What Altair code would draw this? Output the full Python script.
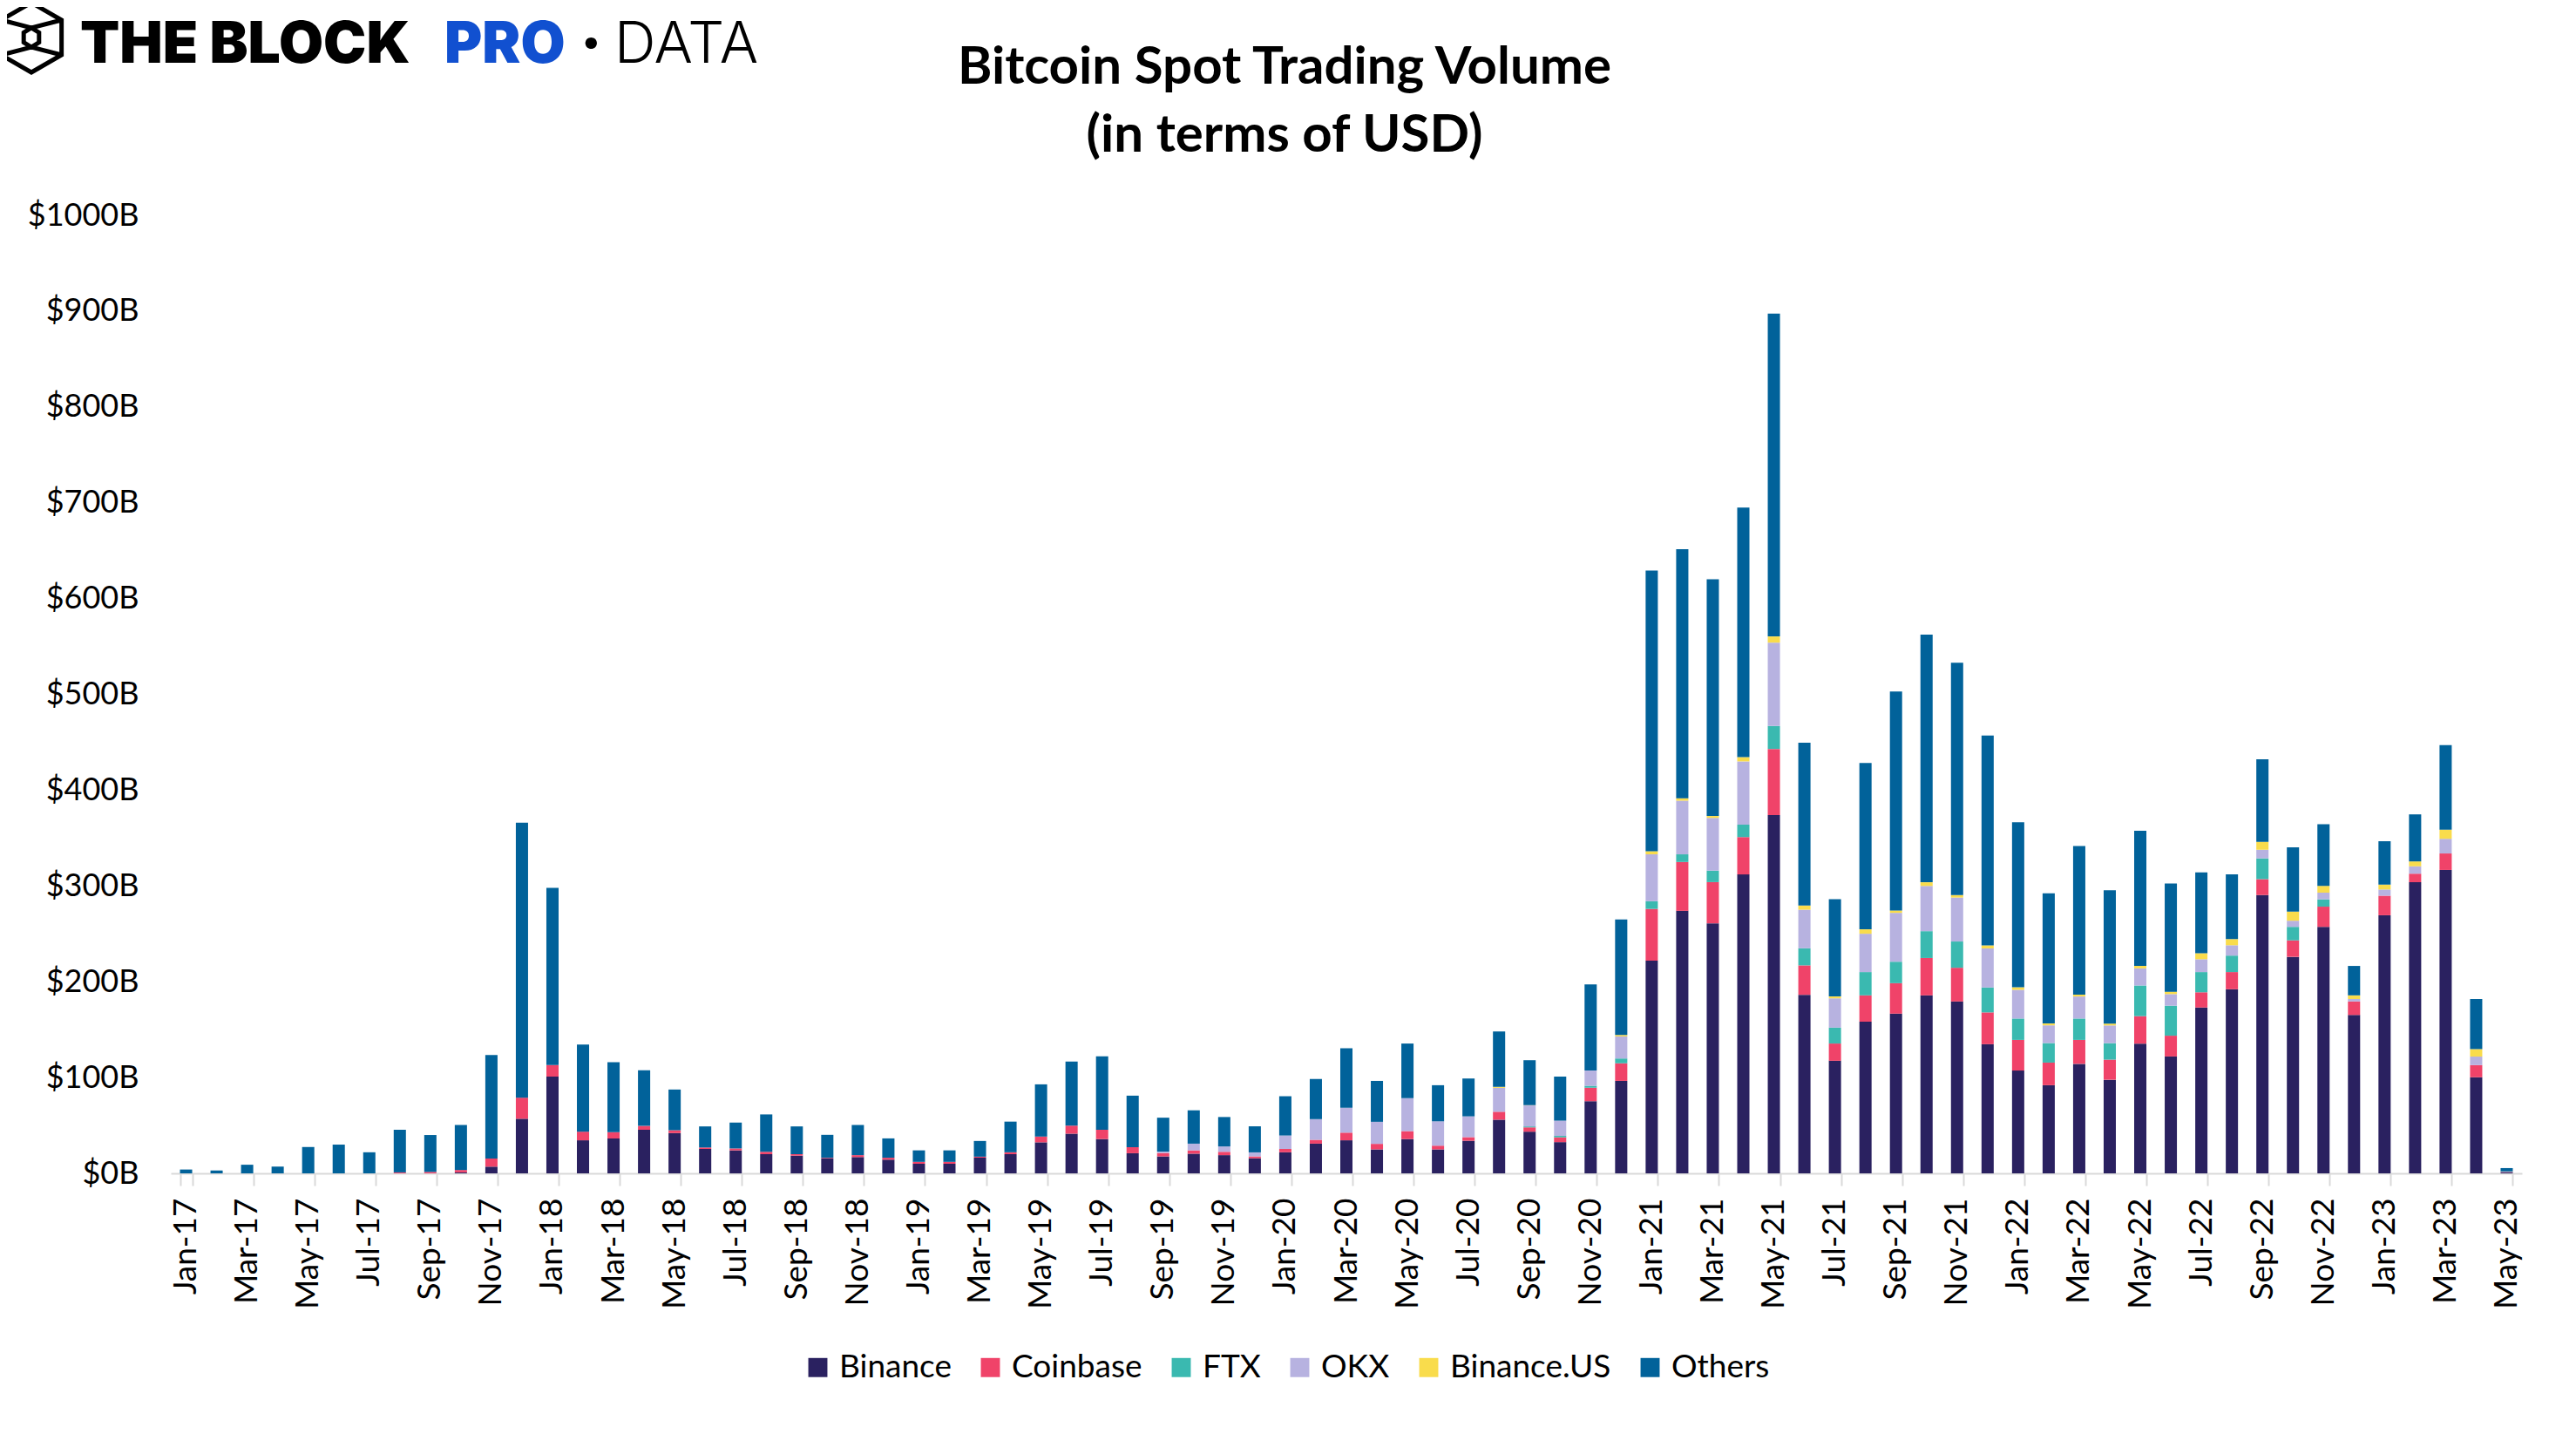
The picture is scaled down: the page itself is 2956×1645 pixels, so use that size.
import altair as alt
import pandas as pd

months = ["Jan-17", "Feb-17", "Mar-17", "Apr-17", "May-17", "Jun-17", "Jul-17", "Aug-17", "Sep-17", "Oct-17", "Nov-17", "Dec-17",
          "Jan-18", "Feb-18", "Mar-18", "Apr-18", "May-18", "Jun-18", "Jul-18", "Aug-18", "Sep-18", "Oct-18", "Nov-18", "Dec-18",
          "Jan-19", "Feb-19", "Mar-19", "Apr-19", "May-19", "Jun-19", "Jul-19", "Aug-19", "Sep-19", "Oct-19", "Nov-19", "Dec-19",
          "Jan-20", "Feb-20", "Mar-20", "Apr-20", "May-20", "Jun-20", "Jul-20", "Aug-20", "Sep-20", "Oct-20", "Nov-20", "Dec-20",
          "Jan-21", "Feb-21", "Mar-21", "Apr-21", "May-21", "Jun-21", "Jul-21", "Aug-21", "Sep-21", "Oct-21", "Nov-21", "Dec-21",
          "Jan-22", "Feb-22", "Mar-22", "Apr-22", "May-22", "Jun-22", "Jul-22", "Aug-22", "Sep-22", "Oct-22", "Nov-22", "Dec-22",
          "Jan-23", "Feb-23", "Mar-23", "Apr-23", "May-23"]

# values in $B
binance = [0, 0, 0, 0, 0, 0, 0, 0, 0, 1, 7, 57,
           101, 34.5, 36.5, 45.5, 42, 25.5, 24, 20, 18.5, 15.5, 17, 14.3,
           10, 10, 16.4, 20, 32.4, 41.4, 35.8, 21, 17.7, 20.5, 19, 15.7,
           22, 31, 34.5, 25, 35.8, 25, 34, 56, 43.5, 32.6, 75.3, 96.5,
           222, 274, 261, 312, 374, 186.4, 117.5, 158.3, 166.7, 185.8, 179.4, 134.8,
           107.3, 92, 114.3, 97.7, 135.4, 122, 173.1, 192.2, 290.5, 226, 257.3, 165.3,
           269.4, 303.9, 316.7, 100.3, 1.2]
coinbase = [0, 0, 0, 0, 0, 0, 0, 1, 1.5, 2.5, 8.5, 22,
            12, 9, 6.5, 4, 3, 1.5, 2, 2.5, 1.5, 0.7, 2, 2,
            2, 2, 1, 2, 6, 8.4, 9.8, 6.3, 3.5, 3.5, 3.5, 2,
            3.5, 4, 8, 5.8, 8.3, 3.9, 3.8, 8.3, 4.5, 5, 14.1, 18.4,
            54, 51, 43, 39, 69, 30.7, 18, 27.5, 31.8, 39, 35.2, 33.2,
            32, 23.6, 25, 21, 28.7, 21.7, 15.9, 17.9, 16.6, 17.2, 21.1, 14.1,
            20.4, 8.9, 17.2, 12.7, 0.3]
ftx = [0, 0, 0, 0, 0, 0, 0, 0, 0, 0, 0, 0,
       0, 0, 0, 0, 0, 0, 0, 0, 0, 0, 0, 0,
       0, 0, 0, 0, 0, 0, 0, 0, 0, 0, 0, 0,
       0, 0, 0, 0, 0, 0, 0, 0, 1, 1.5, 2, 5,
       8, 8, 12, 13, 24, 17.8, 16.6, 24.3, 22.4, 28, 27.4, 26,
       22.3, 20.4, 22.3, 17.2, 32, 31.3, 21.1, 17.2, 21.7, 14.1, 7.6, 0,
       0, 0, 0, 0, 0]
okx = [0, 0, 0, 0, 0, 0, 0, 0, 0, 0, 0, 0,
       0, 0, 0, 0, 0, 0, 0, 0, 0, 0, 0, 0,
       0, 0, 0, 0, 0, 0, 0, 0, 1.5, 7, 5.6, 4.2,
       14, 21.6, 26, 23, 34.4, 25.4, 21.7, 25, 21.9, 15.9, 15.9, 23,
       49, 56, 55, 66, 87, 40.3, 30.6, 40, 51, 47.2, 45.9, 40.8,
       30, 18.5, 23, 18.5, 17.9, 12.1, 13.4, 10.8, 9, 6.4, 7, 2.6,
       6.5, 7.7, 15.3, 8.9, 0.3]
binance_us = [0, 0, 0, 0, 0, 0, 0, 0, 0, 0, 0, 0,
              0, 0, 0, 0, 0, 0, 0, 0, 0, 0, 0, 0,
              0, 0, 0, 0, 0, 0, 0, 0, 0, 0, 0, 0,
              0, 0, 0, 0, 0, 0, 0, 1, 0.3, 0, 0, 1.5,
              3.3, 2.6, 2, 4.5, 6.4, 4.4, 1.9, 4.6, 2.5, 3.8, 2.6, 3.2,
              2.6, 1.9, 1.9, 1.9, 2.6, 2.5, 6.3, 6.4, 8.2, 9.5, 7.1, 3.8,
              5.1, 5.1, 9.6, 7.8, 0.2]
others = [4, 3, 9, 7, 27.5, 30, 22, 44.5, 38.5, 47, 108, 287,
          185, 91, 73, 58, 42.5, 22, 27, 39, 29, 24, 31.5, 20.2,
          12, 12, 16.4, 32, 54.5, 67, 76.6, 53.8, 35.4, 34.8, 30.7, 27.2,
          41, 41.9, 62, 42.7, 57, 37.7, 39.5, 57.8, 46.9, 46, 90, 120.6,
          293, 260, 247, 260.5, 337, 170, 101.5, 173.6, 228.5, 258.5, 242.5, 219,
          172.2, 136, 155.1, 139.3, 141, 113, 84.3, 67.7, 86.2, 67.1, 64.4, 30.7,
          45.3, 49.1, 88.1, 52.3, 3.5]

series = ["Binance", "Coinbase", "FTX", "OKX", "Binance.US", "Others"]
colors = ["#2A2160", "#F04369", "#3AB9B0", "#B7B2E0", "#F9DC4C", "#01629A"]
y_ticks = [0, 100, 200, 300, 400, 500, 600, 700, 800, 900, 1000]
title_lines = ["Bitcoin Spot Trading Volume", "(in terms of USD)"]

rows = []
for idx, (name, vals) in enumerate(zip(series, [binance, coinbase, ftx, okx, binance_us, others])):
    for m, v in zip(months, vals):
        rows.append({"month": m, "exchange": name, "stack_order": idx, "value": v})
df = pd.DataFrame(rows)

FONT = "Lato"

bars = alt.Chart(df).mark_bar().encode(
    x=alt.X("month:N", sort=months, title=None,
            scale=alt.Scale(paddingInner=0.6, paddingOuter=0.3),
            axis=alt.Axis(values=months[::2], labelAngle=270, labelFont=FONT, labelFontSize=37,
                          labelColor="#000000", labelPadding=14, domainColor="#D9D9D9", domainWidth=2,
                          tickColor="#D9D9D9", tickWidth=2, tickSize=14, tickBand="extent", grid=False)),
    y=alt.Y("value:Q", stack="zero", title=None,
            scale=alt.Scale(domain=[0, 1000], nice=False),
            axis=alt.Axis(values=y_ticks, labelExpr="'$' + datum.value + 'B'", domain=False, ticks=False,
                          grid=False, labelFont=FONT, labelFontSize=36, labelColor="#000000", labelPadding=37)),
    color=alt.Color("exchange:N", sort=series,
                    scale=alt.Scale(domain=series, range=colors),
                    legend=alt.Legend(title=None, orient="none", legendX=724, legendY=1303, direction="horizontal",
                                      symbolType="square", symbolSize=480, symbolStrokeWidth=0,
                                      labelFont=FONT, labelFontSize=37, labelColor="#000000", labelLimit=500,
                                      columnPadding=26, labelOffset=6)),
    order=alt.Order("stack_order:Q", sort="ascending"),
)

one = pd.DataFrame({"k": [0]})
hex_path = ("M0,-1 L0.866,-0.5 L0.866,0.5 L0,1 L-0.866,0.5 L-0.866,-0.5 Z "
            "M-0.866,-0.5 L0,-0.28 L0.866,-0.5 M-0.866,0.5 L0,0.28 L0.866,0.5 "
            "M0,-0.28 L0.22,-0.14 L0.22,0.14 L0,0.28 L-0.22,0.14 L-0.22,-0.14 Z")
icon = alt.Chart(one).mark_point(shape=hex_path, size=6400, filled=False, stroke="#000000",
                                 strokeWidth=5, opacity=1).encode(
    x=alt.value(-160), y=alt.value(-204))


def logo_text(txt, xpos, color, weight):
    return alt.Chart(one).mark_text(text=txt, font="Inter", fontWeight=weight, fontSize=66,
                                    align="left", baseline="alphabetic", color=color).encode(
        x=alt.value(xpos), y=alt.value(-175))


t1 = logo_text("THE BLOCK", -104, "#000000", 900)
t2 = logo_text("PRO", 314, "#1150D0", 900)
t3 = logo_text("·", 470, "#000000", 900)
t4 = logo_text("DATA", 509, "#000000", 300)

title1 = alt.Chart(one).mark_text(text=title_lines[0], font=FONT, fontWeight="bold", fontSize=60,
                                  align="center", baseline="middle", color="#000000").encode(
    x=alt.value(1278), y=alt.value(-169))
title2 = alt.Chart(one).mark_text(text=title_lines[1], font=FONT, fontWeight="bold", fontSize=60,
                                  align="center", baseline="middle", color="#000000").encode(
    x=alt.value(1278), y=alt.value(-91))

chart = alt.layer(bars, icon, t1, t2, t3, t4, title1, title2).properties(
    width=2698, height=1099,
    autosize=alt.AutoSizeParams(type="none"),
    padding={"left": 188, "top": 239, "right": 40, "bottom": 280},
    background="#FFFFFF",
).configure_view(stroke=None, strokeWidth=0)

chart.save("out.html", embed_options={"renderer": "svg", "actions": False})
